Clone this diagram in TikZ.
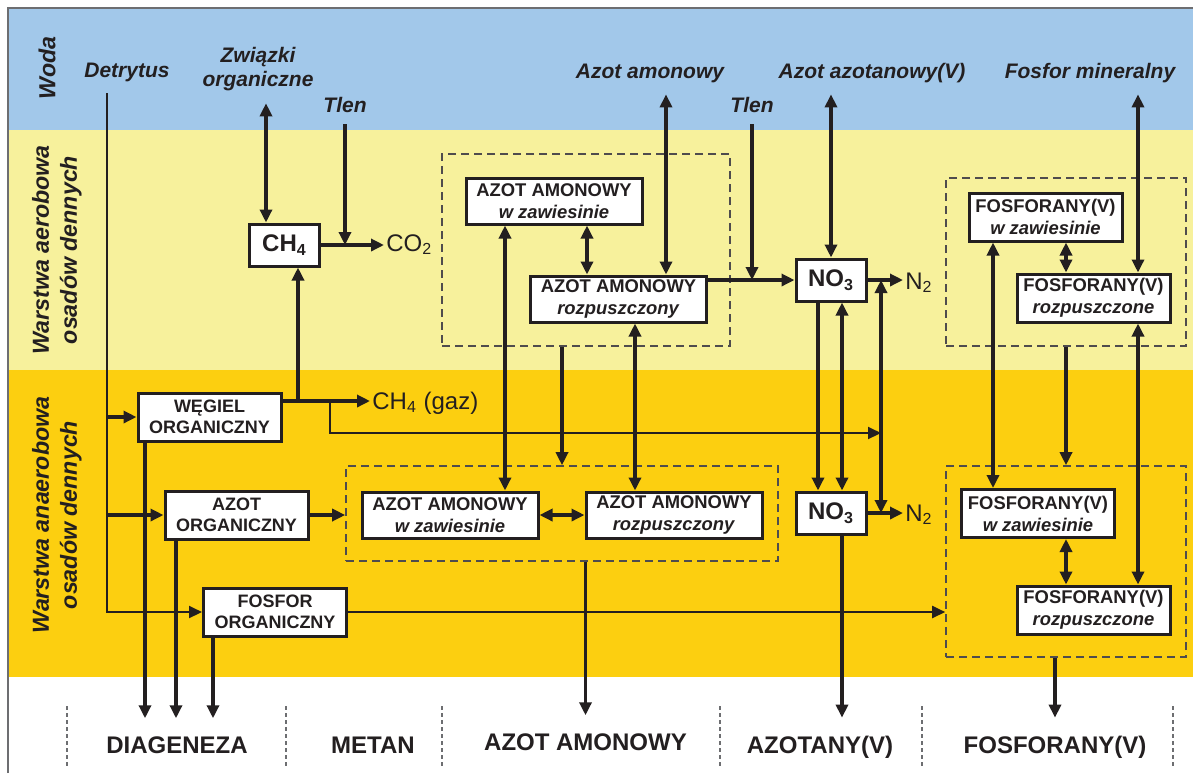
\documentclass[tikz,border=0pt]{standalone}
\usepackage{fontspec}
\setmainfont{Liberation Sans}
\usepackage{tikz}
\usetikzlibrary{arrows.meta,positioning,fit}
\definecolor{wodablue}{HTML}{A2C8EA}
\definecolor{aeroyellow}{HTML}{F7F19C}
\definecolor{anaeroyellow}{HTML}{FCCF10}
\definecolor{ink}{HTML}{231F20}
\definecolor{framegray}{HTML}{6D6E71}

\begin{document}
\begin{tikzpicture}[
    x=0.5pt,y=-0.5pt,
    font=\fontsize{9.2}{11}\selectfont,
    text=ink,
    box/.style={draw=ink,line width=1.5pt,fill=white,align=center,inner sep=1pt,font=\fontsize{9.2}{11}\selectfont\bfseries},
    nbox/.style={box,minimum width=88pt,minimum height=23pt},
    pbox/.style={box,minimum width=76.5pt,minimum height=24pt},
    obox/.style={box,minimum width=71.5pt,minimum height=24pt,font=\fontsize{9}{10.5}\selectfont\bfseries},
    sbox/.style={box,minimum width=35pt,minimum height=21pt,font=\fontsize{12}{14}\selectfont\bfseries},
    group/.style={draw=ink!80,dash pattern=on 4pt off 2.5pt,line width=0.8pt,inner sep=0pt},
    toplabel/.style={font=\fontsize{10.5}{12}\selectfont\bfseries\itshape,align=center,inner sep=0pt,outer sep=6pt},
    side/.style={font=\fontsize{11.6}{14}\selectfont\bfseries\itshape,align=center,rotate=90},
    gas/.style={font=\fontsize{12}{14}\selectfont,inner sep=1pt,anchor=base west},
    bottomlabel/.style={font=\fontsize{12}{14}\selectfont\bfseries,inner sep=0pt,outer ysep=9pt,anchor=base},
    divider/.style={draw=framegray,dash pattern=on 2pt off 1.5pt,line width=0.6pt},
    arrow/.style={-{Triangle[length=6.5pt,width=6pt]},line width=1.8pt,draw=ink},
    both/.style={{Triangle[length=6.5pt,width=6pt]}-{Triangle[length=6.5pt,width=6pt]},line width=1.8pt,draw=ink},
    thinarrow/.style={arrow,line width=1pt}
  ]
  \useasboundingbox (0,0) rectangle (1193,773);
  \fill[white] (0,0) rectangle (1193,773);
  \fill[wodablue] (8,8) rectangle (1193,130);
  \fill[aeroyellow] (8,130) rectangle (1193,370);
  \fill[anaeroyellow] (8,370) rectangle (1193,677);
  \draw[framegray,line width=1pt] (8,773) -- (8,8) -- (1193,8);

  \node[side] (woda) at (47,68) {Woda};
  \node[side] (aero) at (57,250) {Warstwa aerobowa\\osadów dennych};
  \node[side] (anaero) at (57,515) {Warstwa anaerobowa\\osadów dennych};

  \node[toplabel,anchor=base] (detr) at (127,77) {Detrytus};
  \node[toplabel] (zwiazki) at (258,69.5) {Związki\\organiczne};
  \node[toplabel,anchor=base] (tlenA) at (345,112) {Tlen};
  \node[toplabel,anchor=base] (amlab) at (650,78) {Azot amonowy};
  \node[toplabel,anchor=base] (tlenB) at (752,112) {Tlen};
  \node[toplabel,anchor=base] (azlab) at (872,78) {Azot azotanowy(V)};
  \node[toplabel,anchor=base] (fmlab) at (1090,78) {Fosfor mineralny};

  \node[group,fit={(442,154) (730,346)}] (gNa) {};
  \node[group,fit={(346,466) (778,561)}] (gNb) {};
  \node[group,fit={(946,178) (1186,346)}] (gPa) {};
  \node[group,fit={(946,466) (1186,657)}] (gPb) {};

  \node[sbox] (ch4) at (284.5,245) {CH\textsubscript{4}};
  \node[gas] (co2) at (384,251) {CO\textsubscript{2}};
  \node[obox] (wegiel) at (209.5,417) {WĘGIEL\\ORGANICZNY};
  \node[gas] (ch4gaz) at (370,409) {CH\textsubscript{4} (gaz)};
  \node[obox] (azorg) at (236.5,515) {AZOT\\ORGANICZNY};
  \node[obox] (fosorg) at (275,612) {FOSFOR\\ORGANICZNY};

  \node[nbox] (nzawA) at (554,201) {AZOT AMONOWY\\\textit{w zawiesinie}};
  \node[nbox] (nrozA) at (618.5,299) {AZOT AMONOWY\\\textit{rozpuszczony}};
  \node[nbox] (nzawB) at (450,515) {AZOT AMONOWY\\\textit{w zawiesinie}};
  \node[nbox] (nrozB) at (674,515) {AZOT AMONOWY\\\textit{rozpuszczony}};

  \node[sbox] (no3A) at (831,280) {NO\textsubscript{3}};
  \node[sbox] (no3B) at (831,513) {NO\textsubscript{3}};
  \node[gas] (n2A) at (903,289) {N\textsubscript{2}};
  \node[gas] (n2B) at (903,521) {N\textsubscript{2}};

  \node[pbox] (pzawA) at (1045.5,217) {FOSFORANY(V)\\\textit{w zawiesinie}};
  \node[pbox] (prozA) at (1093.5,298) {FOSFORANY(V)\\\textit{rozpuszczone}};
  \node[pbox] (pzawB) at (1038,513.5) {FOSFORANY(V)\\\textit{w zawiesinie}};
  \node[pbox] (prozB) at (1093.5,610) {FOSFORANY(V)\\\textit{rozpuszczone}};

  \node[bottomlabel] (diag) at (177,753) {DIAGENEZA};
  \node[bottomlabel] (metan) at (373,753) {METAN};
  \node[bottomlabel] (amon) at (585.5,750) {AZOT AMONOWY};
  \node[bottomlabel] (azotany) at (820,753) {AZOTANY(V)};
  \node[bottomlabel] (fosf) at (1055,753) {FOSFORANY(V)};
  \foreach \x in {67,286,442,720,922,1173}
    \draw[divider] (\x,706) -- (\x,768);

  \coordinate (cDet) at (107,0);
  \coordinate (cZw) at (266,0);
  \coordinate (cUp) at (298,0);
  \coordinate (cBr) at (330,0);
  \coordinate (cWg) at (145,0);
  \coordinate (cAo) at (176,0);
  \coordinate (cFo) at (213,0);
  \coordinate (cNza) at (505,0);
  \coordinate (cNg) at (562,0);
  \coordinate (cNz) at (587,0);
  \coordinate (cNr) at (635,0);
  \coordinate (cAm) at (666,0);
  \coordinate (cNo1) at (818,0);
  \coordinate (cNo2) at (842,0);
  \coordinate (cN2) at (881,0);
  \coordinate (cPz) at (993,0);
  \coordinate (cPm) at (1066,0);
  \coordinate (cPr) at (1138,0);
  \coordinate (rowC) at (0,433);
  \coordinate (wg) at ([yshift=8pt]wegiel.east);

  \draw[thinarrow] (detr.south -| cDet) -- (cDet |- fosorg.west) -- (fosorg.west);
  \draw[arrow] (cDet |- wegiel.west) -- (wegiel.west);
  \draw[arrow] (cDet |- azorg.west) -- (azorg.west);

  \draw[both] (zwiazki.south -| cZw) -- (ch4.north -| cZw);
  \draw[arrow] (tlenA.south) -- (tlenA.south |- ch4.east);
  \draw[arrow] (ch4.east) -- (co2.west |- ch4.east);
  \draw[arrow] (wg) -- (wg -| ch4gaz.west);
  \draw[arrow] (wg -| cUp) -- (ch4.south -| cUp);
  \draw[thinarrow] (wg -| cBr) -- (cBr |- rowC) -- (cN2 |- rowC);

  \draw[arrow] (wegiel.south -| cWg) -- (diag.north -| cWg);
  \draw[arrow] (azorg.south -| cAo) -- (diag.north -| cAo);
  \draw[arrow] (fosorg.south -| cFo) -- (diag.north -| cFo);
  \draw[arrow] (azorg.east) -- (gNb.west |- azorg.east);
  \draw[thinarrow] (fosorg.east) -- (gPb.west |- fosorg.east);

  \draw[both] (amlab.south -| cAm) -- (nrozA.north -| cAm);
  \draw[both] (nzawA.south -| cNz) -- (nrozA.north -| cNz);
  \draw[both] (nzawA.south -| cNza) -- (nzawB.north -| cNza);
  \draw[both] (nrozA.south -| cNr) -- (nrozB.north -| cNr);
  \draw[arrow] (gNa.south -| cNg) -- (gNb.north -| cNg);
  \draw[both] (nzawB.east) -- (nrozB.west);
  \draw[arrow] (gNb.south -| amon.north) -- (amon.north);

  \draw[arrow] (nrozA.east |- no3A.west) -- (no3A.west);
  \draw[arrow] (tlenB.south) -- (tlenB.south |- no3A.west);
  \draw[both] (azlab.south -| no3A.north) -- (no3A.north);
  \draw[arrow] (no3A.east) -- (n2A.west |- no3A.east);
  \draw[arrow] (no3B.east) -- (n2B.west |- no3B.east);
  \draw[both] (cN2 |- no3A.east) -- (cN2 |- no3B.east);
  \draw[arrow] (no3A.south -| cNo1) -- (no3B.north -| cNo1);
  \draw[both] (no3A.south -| cNo2) -- (no3B.north -| cNo2);
  \draw[arrow] (no3B.south -| cNo2) -- (azotany.north -| cNo2);

  \draw[both] (fmlab.south -| cPr) -- (prozA.north -| cPr);
  \draw[both] (pzawA.south -| cPm) -- (prozA.north -| cPm);
  \draw[both] (pzawA.south -| cPz) -- (pzawB.north -| cPz);
  \draw[both] (prozA.south -| cPr) -- (prozB.north -| cPr);
  \draw[arrow] (gPa.south -| cPm) -- (gPb.north -| cPm);
  \draw[both] (pzawB.south -| cPm) -- (prozB.north -| cPm);
  \draw[arrow] (gPb.south -| fosf.north) -- (fosf.north);
\end{tikzpicture}
\end{document}
